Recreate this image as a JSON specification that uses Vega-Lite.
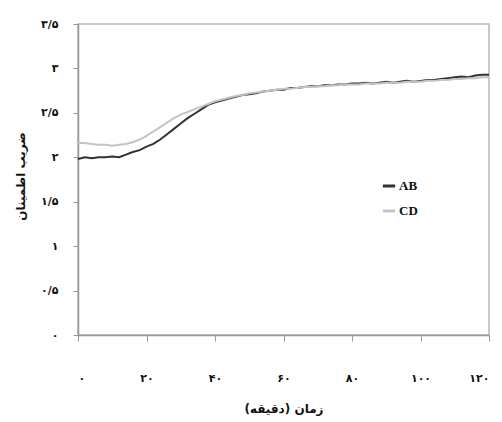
{
  "$schema": "https://vega.github.io/schema/vega-lite/v6.json",
  "autosize": {"type": "none"},
  "width": 411,
  "height": 311,
  "padding": {"left": 78, "top": 24, "right": 13, "bottom": 87},
  "background": "white",
  "config": {
    "view": {"stroke": "#b8b8b8", "strokeWidth": 1.5},
    "font": "DejaVu Sans"
  },
  "data": {
    "values": [
      {"t": 0, "s": "AB", "v": 1.98}, {"t": 2, "s": "AB", "v": 2.0}, {"t": 4, "s": "AB", "v": 1.99}, {"t": 6, "s": "AB", "v": 2.0},
      {"t": 8, "s": "AB", "v": 2.0}, {"t": 10, "s": "AB", "v": 2.01}, {"t": 12, "s": "AB", "v": 2.0}, {"t": 14, "s": "AB", "v": 2.03},
      {"t": 16, "s": "AB", "v": 2.06}, {"t": 18, "s": "AB", "v": 2.08}, {"t": 20, "s": "AB", "v": 2.12}, {"t": 22, "s": "AB", "v": 2.15},
      {"t": 24, "s": "AB", "v": 2.2}, {"t": 26, "s": "AB", "v": 2.26}, {"t": 28, "s": "AB", "v": 2.32}, {"t": 30, "s": "AB", "v": 2.38},
      {"t": 32, "s": "AB", "v": 2.44}, {"t": 34, "s": "AB", "v": 2.49}, {"t": 36, "s": "AB", "v": 2.54}, {"t": 38, "s": "AB", "v": 2.59},
      {"t": 40, "s": "AB", "v": 2.62}, {"t": 42, "s": "AB", "v": 2.64}, {"t": 44, "s": "AB", "v": 2.66}, {"t": 46, "s": "AB", "v": 2.68},
      {"t": 48, "s": "AB", "v": 2.7}, {"t": 50, "s": "AB", "v": 2.71}, {"t": 52, "s": "AB", "v": 2.72}, {"t": 54, "s": "AB", "v": 2.74},
      {"t": 56, "s": "AB", "v": 2.75}, {"t": 58, "s": "AB", "v": 2.76}, {"t": 60, "s": "AB", "v": 2.76}, {"t": 62, "s": "AB", "v": 2.78},
      {"t": 64, "s": "AB", "v": 2.78}, {"t": 66, "s": "AB", "v": 2.79}, {"t": 68, "s": "AB", "v": 2.8}, {"t": 70, "s": "AB", "v": 2.8},
      {"t": 72, "s": "AB", "v": 2.81}, {"t": 74, "s": "AB", "v": 2.81}, {"t": 76, "s": "AB", "v": 2.82}, {"t": 78, "s": "AB", "v": 2.82},
      {"t": 80, "s": "AB", "v": 2.83}, {"t": 82, "s": "AB", "v": 2.83}, {"t": 84, "s": "AB", "v": 2.84}, {"t": 86, "s": "AB", "v": 2.83},
      {"t": 88, "s": "AB", "v": 2.84}, {"t": 90, "s": "AB", "v": 2.85}, {"t": 92, "s": "AB", "v": 2.84}, {"t": 94, "s": "AB", "v": 2.85},
      {"t": 96, "s": "AB", "v": 2.86}, {"t": 98, "s": "AB", "v": 2.85}, {"t": 100, "s": "AB", "v": 2.86}, {"t": 102, "s": "AB", "v": 2.87},
      {"t": 104, "s": "AB", "v": 2.87}, {"t": 106, "s": "AB", "v": 2.88}, {"t": 108, "s": "AB", "v": 2.89}, {"t": 110, "s": "AB", "v": 2.9},
      {"t": 112, "s": "AB", "v": 2.91}, {"t": 114, "s": "AB", "v": 2.9}, {"t": 116, "s": "AB", "v": 2.92}, {"t": 118, "s": "AB", "v": 2.93},
      {"t": 120, "s": "AB", "v": 2.93},
      {"t": 0, "s": "CD", "v": 2.16}, {"t": 2, "s": "CD", "v": 2.16}, {"t": 4, "s": "CD", "v": 2.15}, {"t": 6, "s": "CD", "v": 2.14},
      {"t": 8, "s": "CD", "v": 2.14}, {"t": 10, "s": "CD", "v": 2.13}, {"t": 12, "s": "CD", "v": 2.14}, {"t": 14, "s": "CD", "v": 2.15},
      {"t": 16, "s": "CD", "v": 2.17}, {"t": 18, "s": "CD", "v": 2.2}, {"t": 20, "s": "CD", "v": 2.24}, {"t": 22, "s": "CD", "v": 2.29},
      {"t": 24, "s": "CD", "v": 2.34}, {"t": 26, "s": "CD", "v": 2.39}, {"t": 28, "s": "CD", "v": 2.44}, {"t": 30, "s": "CD", "v": 2.48},
      {"t": 32, "s": "CD", "v": 2.51}, {"t": 34, "s": "CD", "v": 2.54}, {"t": 36, "s": "CD", "v": 2.57}, {"t": 38, "s": "CD", "v": 2.6},
      {"t": 40, "s": "CD", "v": 2.63}, {"t": 42, "s": "CD", "v": 2.65}, {"t": 44, "s": "CD", "v": 2.67}, {"t": 46, "s": "CD", "v": 2.69},
      {"t": 48, "s": "CD", "v": 2.7}, {"t": 50, "s": "CD", "v": 2.72}, {"t": 52, "s": "CD", "v": 2.73}, {"t": 54, "s": "CD", "v": 2.74},
      {"t": 56, "s": "CD", "v": 2.75}, {"t": 58, "s": "CD", "v": 2.76}, {"t": 60, "s": "CD", "v": 2.77}, {"t": 62, "s": "CD", "v": 2.77},
      {"t": 64, "s": "CD", "v": 2.78}, {"t": 66, "s": "CD", "v": 2.79}, {"t": 68, "s": "CD", "v": 2.79}, {"t": 70, "s": "CD", "v": 2.8},
      {"t": 72, "s": "CD", "v": 2.8}, {"t": 74, "s": "CD", "v": 2.81}, {"t": 76, "s": "CD", "v": 2.81}, {"t": 78, "s": "CD", "v": 2.82},
      {"t": 80, "s": "CD", "v": 2.82}, {"t": 82, "s": "CD", "v": 2.82}, {"t": 84, "s": "CD", "v": 2.83}, {"t": 86, "s": "CD", "v": 2.83},
      {"t": 88, "s": "CD", "v": 2.83}, {"t": 90, "s": "CD", "v": 2.84}, {"t": 92, "s": "CD", "v": 2.84}, {"t": 94, "s": "CD", "v": 2.84},
      {"t": 96, "s": "CD", "v": 2.85}, {"t": 98, "s": "CD", "v": 2.85}, {"t": 100, "s": "CD", "v": 2.85}, {"t": 102, "s": "CD", "v": 2.86},
      {"t": 104, "s": "CD", "v": 2.86}, {"t": 106, "s": "CD", "v": 2.87}, {"t": 108, "s": "CD", "v": 2.87}, {"t": 110, "s": "CD", "v": 2.88},
      {"t": 112, "s": "CD", "v": 2.88}, {"t": 114, "s": "CD", "v": 2.89}, {"t": 116, "s": "CD", "v": 2.89}, {"t": 118, "s": "CD", "v": 2.9},
      {"t": 120, "s": "CD", "v": 2.9}
    ]
  },
  "mark": {"type": "line", "strokeWidth": 2},
  "encoding": {
    "x": {
      "field": "t", "type": "quantitative",
      "scale": {"domain": [0, 120], "nice": false},
      "axis": {
        "title": "زمان (دقیقه)",
        "values": [0, 20, 40, 60, 80, 100, 120],
        "grid": false,
        "domainColor": "#999", "domainWidth": 1.5,
        "tickColor": "#999", "tickSize": 6,
        "labelPadding": 31,
        "labelFontSize": 11, "labelFontWeight": "bold", "labelColor": "#111",
        "labelExpr": "replace(replace(replace(replace(replace(replace(toString(datum.value),regexp('0','g'),'۰'),regexp('1','g'),'۱'),regexp('2','g'),'۲'),regexp('4','g'),'۴'),regexp('6','g'),'۶'),regexp('8','g'),'۸')",
        "titleFontSize": 12, "titleFontWeight": "bold", "titleColor": "#111",
        "titleY": 73, "titleBaseline": "middle"
      }
    },
    "y": {
      "field": "v", "type": "quantitative",
      "scale": {"domain": [0, 3.5], "nice": false},
      "axis": {
        "title": "ضریب اطمینان",
        "values": [0, 0.5, 1, 1.5, 2, 2.5, 3, 3.5],
        "grid": false,
        "domainColor": "#999", "domainWidth": 1.5,
        "tickColor": "#999", "tickSize": 5,
        "labelPadding": 15,
        "labelFontSize": 11, "labelFontWeight": "bold", "labelColor": "#111",
        "labelExpr": "replace(replace(replace(replace(replace(replace(toString(datum.value),'.','/'),regexp('0','g'),'۰'),regexp('1','g'),'۱'),regexp('2','g'),'۲'),regexp('3','g'),'۳'),regexp('5','g'),'۵')",
        "titleFontSize": 12, "titleFontWeight": "bold", "titleColor": "#111",
        "titleX": -58, "titleY": 152, "titleBaseline": "middle"
      }
    },
    "color": {
      "field": "s", "type": "nominal",
      "scale": {"domain": ["AB", "CD"], "range": ["#333333", "#c4c4c4"]},
      "legend": {
        "title": null,
        "orient": "none",
        "legendX": 303,
        "legendY": 154,
        "symbolType": "stroke",
        "symbolSize": 150,
        "symbolStrokeWidth": 3,
        "labelFont": "Liberation Serif",
        "labelFontSize": 13,
        "labelFontWeight": "bold",
        "labelColor": "#111",
        "labelOffset": 2,
        "rowPadding": 10
      }
    }
  }
}
